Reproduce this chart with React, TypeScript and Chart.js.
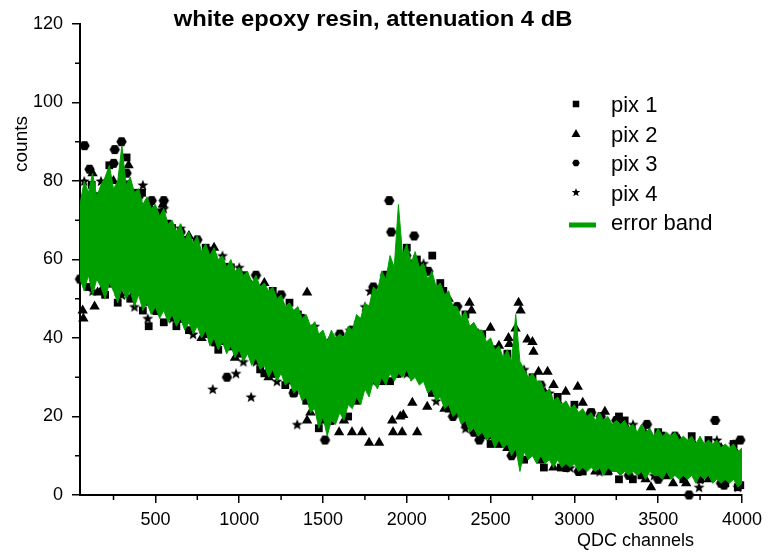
import React, { useEffect, useRef } from 'react';
import { Chart, registerables } from 'chart.js';

Chart.register(...registerables);

// ---------- data ----------
const titleText = 'white epoxy resin, attenuation 4 dB';
const xTitle = 'QDC channels';
const yTitle = 'counts';
const legendLabels = ['pix 1', 'pix 2', 'pix 3', 'pix 4', 'error band'];

const xTicks = [500, 1000, 1500, 2000, 2500, 3000, 3500, 4000];
const xMinor = [250, 750, 1250, 1750, 2250, 2750, 3250, 3750];
const yTicks = [0, 20, 40, 60, 80, 100, 120];
const yMinor = [10, 30, 50, 70, 90, 110];

const bandChannels = [
  50, 75, 100, 125, 150, 175, 200, 225, 250, 275,
  300, 325, 350, 375, 400, 425, 450, 475, 500, 525,
  550, 575, 600, 625, 650, 675, 700, 725, 750, 775,
  800, 825, 850, 875, 900, 925, 950, 975, 1000, 1025,
  1050, 1075, 1100, 1125, 1150, 1175, 1200, 1225, 1250, 1275,
  1300, 1325, 1350, 1375, 1400, 1425, 1450, 1475, 1500, 1525,
  1550, 1575, 1600, 1625, 1650, 1675, 1700, 1725, 1750, 1775,
  1800, 1825, 1850, 1875, 1900, 1925, 1950, 1975, 2000, 2025,
  2050, 2075, 2100, 2125, 2150, 2175, 2200, 2225, 2250, 2275,
  2300, 2325, 2350, 2375, 2400, 2425, 2450, 2475, 2500, 2525,
  2550, 2575, 2600, 2625, 2650, 2675, 2700, 2725, 2750, 2775,
  2800, 2825, 2850, 2875, 2900, 2925, 2950, 2975, 3000, 3025,
  3050, 3075, 3100, 3125, 3150, 3175, 3200, 3225, 3250, 3275,
  3300, 3325, 3350, 3375, 3400, 3425, 3450, 3475, 3500, 3525,
  3550, 3575, 3600, 3625, 3650, 3675, 3700, 3725, 3750, 3775,
  3800, 3825, 3850, 3875, 3900, 3925, 3950, 3975, 4000,
];

const bandUpper = [
  74, 80, 77, 82, 76, 79, 81, 84, 78, 80,
  89, 79, 81, 77, 78, 74, 76, 73, 74, 71,
  73, 69, 70, 67, 69, 65, 67, 64, 66, 62,
  64, 61, 63, 60, 61, 58, 60, 57, 58, 56,
  57, 54, 56, 53, 54, 52, 53, 50, 51, 48,
  49, 47, 48, 45, 46, 43, 44, 41, 42, 39,
  42, 40, 41, 40, 43, 42, 46, 45, 49, 48,
  53, 52, 57, 55, 61, 58, 74, 61, 64, 59,
  62, 58, 59, 55, 57, 53, 54, 51, 52, 48,
  48, 45, 47, 43, 44, 42, 42, 39, 40, 37,
  38, 35, 37, 34, 46, 34, 32, 30, 31, 29,
  29, 26, 27, 24, 25, 23, 24, 22, 23, 21,
  22, 20, 21, 19, 21, 19, 20, 18, 19, 18,
  19, 17, 18, 16, 18, 16, 17, 15, 17, 15,
  16, 15, 16, 14, 15, 14, 15, 13, 15, 13,
  14, 13, 14, 12, 13, 12, 13, 11, 12,
];

const bandLower = [
  55, 52, 56, 51, 55, 53, 50, 54, 52, 49,
  53, 50, 52, 48, 51, 47, 49, 46, 48, 45,
  47, 44, 46, 43, 45, 42, 44, 41, 43, 40,
  42, 38, 40, 37, 39, 36, 38, 35, 37, 34,
  36, 33, 35, 32, 33, 30, 32, 29, 31, 28,
  29, 26, 27, 24, 25, 21, 22, 17, 20, 15,
  19, 18, 21, 19, 23, 22, 25, 23, 27, 25,
  29, 27, 30, 28, 31, 29, 31, 30, 32, 29,
  30, 28, 29, 26, 27, 24, 25, 22, 23, 20,
  21, 18, 19, 16, 17, 15, 16, 14, 15, 12,
  14, 12, 13, 10, 12, 6, 11, 9, 10, 8,
  10, 8, 9, 7, 9, 7, 8, 7, 8, 6,
  7, 6, 7, 6, 7, 5, 7, 6, 6, 5,
  6, 5, 6, 5, 6, 4, 6, 5, 5, 4,
  6, 4, 5, 4, 5, 4, 5, 3, 5, 4,
  5, 3, 4, 3, 4, 3, 4, 2, 3,
];

const pix1X = [328, 420, 526, 574, 711, 1094, 1727, 2152, 2218, 2308, 3266, 3255, 2818, 2919, 3266, 3349, 3990, 460,
  120, 600, 800, 950, 1200, 1350, 1820, 2060, 2450, 2600, 2900, 3100, 3500, 3800,
  200, 350, 700, 1000, 1150, 1400, 1650, 1900, 2250, 2500, 2700, 3050, 3400, 3650, 3900,
  100, 275, 425, 550, 625, 800, 875, 1125, 1275, 1325, 1475, 1700, 1850, 2150, 2350, 2550, 2800, 2950, 3200, 3550, 3750, 3975,
  225, 375, 675, 1025, 1300, 2000, 2200, 2350, 2750, 3000, 3300, 3700, 3950];
const pix1Y = [86, 77, 72, 69, 62, 51, 44, 61, 52, 21, 20, 18, 7, 7, 4, 4, 2.5, 43,
  79, 68, 63, 58, 52, 46, 50, 60, 41, 36, 25, 21, 16, 14,
  51, 50, 42, 36, 31, 24, 20, 29, 22, 13, 9, 6, 5, 4, 3,
  53, 49, 47, 44, 43, 41, 37, 32, 28, 26, 17, 24, 29, 26, 18, 13, 9, 7, 6, 5, 4, 2,
  84, 77, 65, 56, 49, 63, 54, 46, 30, 23, 19, 15, 13];

const pix2X = [340, 544, 466, 825, 1405, 1232, 1298, 66, 70, 137, 155, 364, 2374, 2386, 2667, 2679, 2649, 2607, 2612,
  2720, 2750, 2756, 2499, 2840, 2786, 2876, 2948, 3020, 3050, 3182, 1405, 1596, 1673, 1733, 1775, 1835, 1918,
  1972, 2062, 1913, 1961, 1979, 2033, 2122, 2170, 2140, 3457, 3589, 3667,
  250, 700, 1050, 1550, 2250, 2550, 2900, 3300, 3700, 3950, 900, 1300, 2600, 3200,
  175, 450, 775, 975, 1175, 1425, 1625, 2225, 2450, 2875, 3125, 3425, 3800,
  125, 475, 850, 1150, 1875, 2075, 2425, 2825, 3075, 3625, 3875];
const pix2Y = [84, 74, 71.5, 62, 51.6, 47.5, 46.5, 47, 45, 48, 51.6, 51, 49, 47, 49, 47, 42.4, 40, 38.5,
  39.6, 39, 36.5, 42.6, 31.4, 31.4, 28, 26.3, 27.6, 23.5, 21.2, 19, 16, 16, 16, 13.3, 13.3, 16,
  16, 16, 19, 20, 20.4, 23.5, 22.5, 26, 28.6, 2, 3, 3,
  80, 66, 55, 40, 50, 38, 24, 18, 14, 12, 39, 29, 12, 6,
  52, 49, 40, 35, 30, 21, 19, 22, 15, 7, 6, 4, 4,
  82, 73, 63, 54, 55, 58, 41, 26, 20, 14, 12];

const pix3X = [77, 107, 251, 257, 298, 328, 478, 550, 651, 1459, 1584, 1716, 1895, 1907, 2044, 1997, 1871, 2092,
  2128, 1512, 2433, 927, 3158, 3433, 3840, 3990, 3684, 3893,
  400, 750, 1100, 1250, 1600, 2300, 2800, 3100, 3600, 500, 850, 1200, 2400, 2950, 3500,
  50, 225, 650, 950, 1325, 1550, 1950, 2275, 2625, 3025, 3325, 3875,
  150, 325, 575, 925, 1375, 1675, 1800, 2525, 3250, 3525];
const pix3Y = [89, 83, 84.5, 88, 90, 82, 75, 75, 67, 39, 39, 44, 75, 67, 66, 61, 56, 57,
  57, 14, 14, 30, 20, 18, 19, 14, 0, 2.5,
  76, 65, 56, 51, 41, 48, 28, 21, 15, 47, 39, 31, 16, 7, 4,
  55, 54, 45, 38, 26, 19, 31, 20, 10, 6, 5, 3,
  76, 79, 69, 58, 45, 42, 53, 37, 19, 15];

const pix4X = [425, 275, 454, 842, 981, 1071, 1346, 1524, 1661, 1781, 2350, 3744,
  175, 650, 1000, 1450, 1750, 2100, 2700, 3350, 3850, 300, 600, 1100, 1500, 2000, 2650, 3150, 3750,
  125, 375, 725, 1025, 1225, 1800, 2175, 2500, 2975, 3475, 3975,
  75, 550, 900, 1225, 1575, 2025, 2300, 2850, 3425, 3950];
const pix4Y = [79, 52, 45, 27, 31, 25, 18, 37.5, 42, 52, 17, 2,
  80, 68, 58, 43, 48, 59, 32, 18, 14, 51, 45, 34, 19, 31, 11, 6, 4,
  52, 48, 41, 34, 29, 29, 24, 15, 7, 5, 2,
  80, 73, 61, 50, 39, 59, 48, 26, 16, 13];

// ---------- helpers ----------
const FONT = '"Liberation Sans", Arial, sans-serif';
const GREEN = '#009f00';

function pts(xs: number[], ys: number[]) {
  return xs.map((x, i) => ({ x, y: ys[i] }));
}

function hexPath(ctx: CanvasRenderingContext2D, cx: number, cy: number, r: number) {
  ctx.beginPath();
  for (let i = 0; i < 6; i++) {
    const a = (Math.PI / 3) * i;
    const px = cx + r * Math.cos(a);
    const py = cy + r * Math.sin(a);
    if (i === 0) ctx.moveTo(px, py); else ctx.lineTo(px, py);
  }
  ctx.closePath();
}

function starPath(ctx: CanvasRenderingContext2D, cx: number, cy: number, r: number) {
  ctx.beginPath();
  for (let i = 0; i < 10; i++) {
    const a = -Math.PI / 2 + (Math.PI / 5) * i;
    const rr = i % 2 === 0 ? r : r * 0.42;
    const px = cx + rr * Math.cos(a);
    const py = cy + rr * Math.sin(a);
    if (i === 0) ctx.moveTo(px, py); else ctx.lineTo(px, py);
  }
  ctx.closePath();
}

function makeMarker(kind: 'hex' | 'star', r: number) {
  const c = document.createElement('canvas');
  const s = Math.ceil(r * 2 + 2);
  c.width = s;
  c.height = s;
  const ctx = c.getContext('2d')!;
  ctx.fillStyle = '#000';
  if (kind === 'hex') hexPath(ctx, s / 2, s / 2, r); else starPath(ctx, s / 2, s / 2 + 0.5, r);
  ctx.fill();
  return c;
}

const decorPlugin = {
  id: 'decor',
  afterDraw(chart: any) {
    const { ctx, chartArea, scales } = chart;
    const xs = scales.x;
    const ys = scales.y;
    ctx.save();
    // minor ticks
    ctx.strokeStyle = '#000';
    ctx.lineWidth = 1.5;
    ctx.beginPath();
    yMinor.forEach((v) => {
      const py = ys.getPixelForValue(v);
      ctx.moveTo(chartArea.left - 5, py);
      ctx.lineTo(chartArea.left, py);
    });
    xMinor.forEach((v) => {
      const px = xs.getPixelForValue(v);
      ctx.moveTo(px, chartArea.bottom);
      ctx.lineTo(px, chartArea.bottom + 5);
    });
    ctx.stroke();

    ctx.fillStyle = '#000';
    // title
    ctx.save();
    ctx.font = `bold 22px ${FONT}`;
    ctx.textAlign = 'center';
    ctx.textBaseline = 'alphabetic';
    ctx.translate(373, 26);
    ctx.scale(1.08, 1);
    ctx.fillText(titleText, 0, 0);
    ctx.restore();

    // y title
    ctx.save();
    ctx.font = `19px ${FONT}`;
    ctx.translate(27, 144);
    ctx.rotate(-Math.PI / 2);
    ctx.textAlign = 'center';
    ctx.textBaseline = 'alphabetic';
    ctx.fillText(yTitle, 0, 0);
    ctx.restore();

    // x title
    ctx.font = `18px ${FONT}`;
    ctx.textAlign = 'left';
    ctx.textBaseline = 'alphabetic';
    ctx.fillText(xTitle, 577, 546);

    // legend
    const rows = [104, 133.5, 163, 192.5, 222];
    const mx = 576;
    ctx.font = `22px ${FONT}`;
    legendLabels.forEach((label, i) => {
      const y = rows[i];
      ctx.fillStyle = '#000';
      if (i === 0) {
        ctx.fillRect(mx - 3.25, y - 3.25, 6.5, 6.5);
      } else if (i === 1) {
        ctx.beginPath();
        ctx.moveTo(mx, y - 4.5);
        ctx.lineTo(mx + 4.5, y + 3.5);
        ctx.lineTo(mx - 4.5, y + 3.5);
        ctx.closePath();
        ctx.fill();
      } else if (i === 2) {
        hexPath(ctx, mx, y, 3.8);
        ctx.fill();
      } else if (i === 3) {
        starPath(ctx, mx, y, 4.5);
        ctx.fill();
      } else {
        ctx.fillStyle = GREEN;
        ctx.fillRect(569, y + 0.5, 27, 5);
        ctx.fillStyle = '#000';
      }
      ctx.fillText(label, 611, y + 8);
    });
    ctx.restore();
  },
};

export default function App() {
  const ref = useRef<HTMLCanvasElement | null>(null);

  useEffect(() => {
    if (!ref.current) return;
    const hex = makeMarker('hex', 5.2);
    const star = makeMarker('star', 5.8);
    const scatterBase = {
      showLine: false,
      pointBackgroundColor: '#000',
      pointBorderWidth: 0,
      borderWidth: 0,
      borderColor: '#000',
      clip: false as any,
    };
    const tickFont = { family: FONT, size: 18 };
    const chart = new Chart(ref.current, {
      type: 'line',
      data: {
        datasets: [
          {
            label: 'upper',
            data: pts(bandChannels, bandUpper),
            borderColor: GREEN,
            backgroundColor: GREEN,
            borderWidth: 1,
            pointRadius: 0,
            tension: 0,
            fill: '+1',
          },
          {
            label: 'lower',
            data: pts(bandChannels, bandLower),
            borderColor: GREEN,
            backgroundColor: GREEN,
            borderWidth: 1,
            pointRadius: 0,
            tension: 0,
            fill: false,
          },
          { label: legendLabels[0], data: pts(pix1X, pix1Y), pointStyle: 'rect', pointRadius: 5.5, ...scatterBase },
          { label: legendLabels[1], data: pts(pix2X, pix2Y), pointStyle: 'triangle', pointRadius: 6, ...scatterBase },
          { label: legendLabels[2], data: pts(pix3X, pix3Y), pointStyle: hex as any, pointRadius: 5, ...scatterBase },
          { label: legendLabels[3], data: pts(pix4X, pix4Y), pointStyle: star as any, pointRadius: 5, ...scatterBase },
        ] as any,
      },
      options: {
        animation: false,
        responsive: false,
        events: [],
        layout: { padding: { top: 24, right: 25, bottom: 0, left: 0 } },
        plugins: {
          legend: { display: false },
          title: { display: false },
          tooltip: { enabled: false },
        },
        scales: {
          x: {
            type: 'linear',
            min: 50,
            max: 4000,
            afterBuildTicks: (s: any) => {
              s.ticks = xTicks.map((v) => ({ value: v }));
            },
            afterFit: (s: any) => {
              s.height = 65;
            },
            grid: { display: true, drawOnChartArea: false, drawTicks: true, tickLength: 8, color: '#000', lineWidth: 1.5 },
            border: { display: true, color: '#000', width: 2 },
            ticks: {
              font: tickFont,
              color: '#000',
              padding: 6,
              maxRotation: 0,
              autoSkip: false,
              callback: (v: any) => String(v),
            },
          },
          y: {
            type: 'linear',
            min: 0,
            max: 120,
            afterBuildTicks: (s: any) => {
              s.ticks = yTicks.map((v) => ({ value: v }));
            },
            afterFit: (s: any) => {
              s.width = 80;
            },
            grid: { display: true, drawOnChartArea: false, drawTicks: true, tickLength: 8, color: '#000', lineWidth: 1.5 },
            border: { display: true, color: '#000', width: 2 },
            ticks: {
              font: tickFont,
              color: '#000',
              padding: 9,
              autoSkip: false,
              callback: (v: any) => String(v),
            },
          },
        },
      } as any,
      plugins: [decorPlugin],
    });
    return () => chart.destroy();
  }, []);

  return (
    <div style={{ position: 'absolute', left: 0, top: 0, width: 768, height: 560, background: '#fff' }}>
      <canvas ref={ref} width={768} height={560} style={{ display: 'block', width: 768, height: 560 }} />
    </div>
  );
}
